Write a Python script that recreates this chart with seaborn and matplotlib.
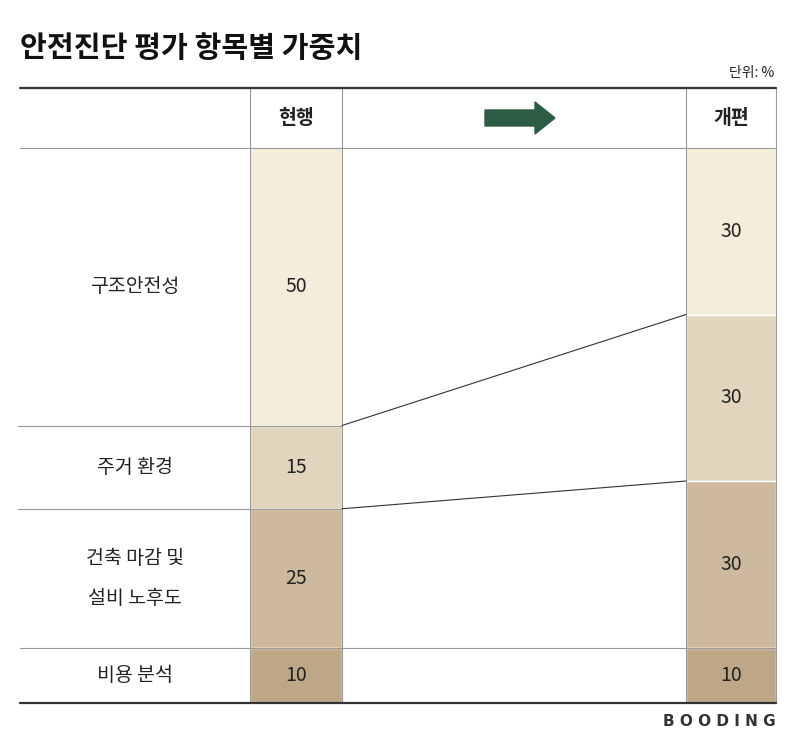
import matplotlib.pyplot as plt
import seaborn as sns
import numpy as np

# data
categories = ["구조안전성", "주거 환경", "건축 마감 및\n설비 노후도", "비용 분석"]
current = [50, 15, 25, 10]
revised = [30, 30, 30, 10]
colors = ["#f5ecdc", "#e2d5be", "#cdb99e", "#bea786"]

sns.set_theme(style="white", font="Noto Sans CJK KR")
fig = plt.figure(figsize=(8, 7.44), dpi=100)
ax = fig.add_axes([0, 0, 1, 1])
ax.set_xlim(0, 800)
ax.set_ylim(744, 0)
ax.axis("off")

top, unit = 148, 5.55  # pixels per percentage point
cur_cum = np.concatenate([[0], np.cumsum(current)])
rev_cum = np.concatenate([[0], np.cumsum(revised)])

def ypos(v):
    return top + v * unit

# bars
ax.bar(296, np.array(current) * unit, bottom=ypos(cur_cum[:-1]), width=92,
       color=colors, align="center")
ax.bar(731, np.array(revised) * unit, bottom=ypos(rev_cum[:-1]), width=90,
       color=colors[:3] + [colors[3]], align="center")

for i, v in enumerate(current):
    ax.text(296, (ypos(cur_cum[i]) + ypos(cur_cum[i + 1])) / 2, str(v),
            ha="center", va="center", fontsize=14, color="#222")
    ax.text(135, (ypos(cur_cum[i]) + ypos(cur_cum[i + 1])) / 2, categories[i],
            ha="center", va="center", fontsize=14, color="#222", linespacing=2.2)
for i, v in enumerate(revised):
    ax.text(731, (ypos(rev_cum[i]) + ypos(rev_cum[i + 1])) / 2, str(v),
            ha="center", va="center", fontsize=14, color="#222")

# grid lines
bottom = ypos(100)
for x in [250, 342, 686, 776]:
    ax.plot([x, x], [88, bottom], color="#999", lw=0.8)
ax.plot([20, 776], [148, 148], color="#999", lw=0.8)
for v in cur_cum[1:-2]:
    ax.plot([18, 342], [ypos(v), ypos(v)], color="#999", lw=0.8)
ax.plot([20, 776], [ypos(cur_cum[3]), ypos(cur_cum[3])], color="#999", lw=0.8)
ax.plot([20, 776], [88, 88], color="#333", lw=1.6)
ax.plot([20, 776], [bottom, bottom], color="#333", lw=1.6)

# connectors
ax.plot([342, 686], [ypos(cur_cum[1]), ypos(rev_cum[1])], color="#333", lw=0.8)
ax.plot([342, 686], [ypos(cur_cum[2]), ypos(rev_cum[2])], color="#333", lw=0.8)

# header
ax.text(296, 118, "현행", ha="center", va="center", fontsize=14, fontweight="bold", color="#222")
ax.text(731, 118, "개편", ha="center", va="center", fontsize=14, fontweight="bold", color="#222")
ax.fill([485, 535, 535, 555, 535, 535, 485], [110, 110, 102, 118, 134, 126, 126], color="#2c5c43")

ax.text(20, 48, "안전진단 평가 항목별 가중치", ha="left", va="center", fontsize=21,
        fontweight="bold", color="#111")
ax.text(774, 73, "단위: %", ha="right", va="center", fontsize=10, color="#222")
ax.text(776, 722, "B O O D I N G", ha="right", va="center", fontsize=11,
        fontweight="bold", color="#333", family="DejaVu Sans")

fig.savefig("out.png", dpi=100)
